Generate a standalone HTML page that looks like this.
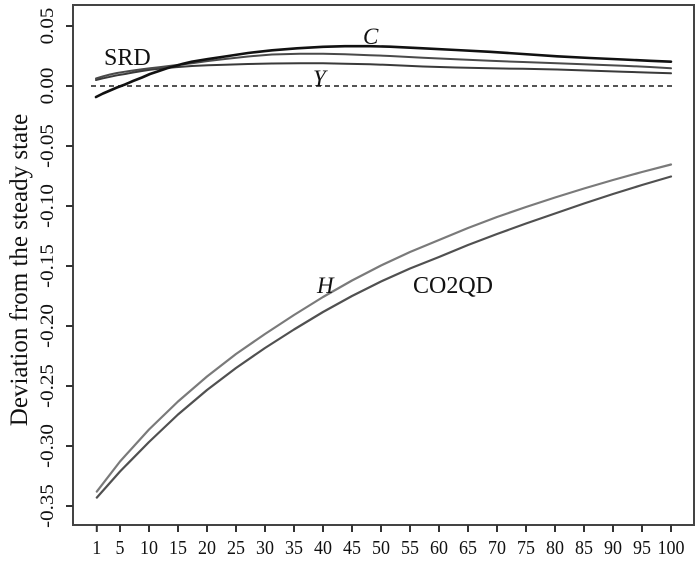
<!DOCTYPE html>
<html>
<head>
<meta charset="utf-8">
<style>
  html,body{margin:0;padding:0;background:#fff;}
  svg{display:block;}
  text{font-family:"Liberation Serif","DejaVu Serif",serif;fill:#111;}
</style>
</head>
<body>
<svg width="700" height="563" viewBox="0 0 700 563" xmlns="http://www.w3.org/2000/svg">
  <rect x="0" y="0" width="700" height="563" fill="#fff"/>

  <!-- frame -->
  <rect x="73" y="5" width="621" height="520" fill="none" stroke="#444" stroke-width="2"/>

  <!-- y ticks -->
  <g stroke="#333" stroke-width="2">
    <line x1="66" y1="26" x2="73" y2="26"/>
    <line x1="66" y1="86" x2="73" y2="86"/>
    <line x1="66" y1="146" x2="73" y2="146"/>
    <line x1="66" y1="206" x2="73" y2="206"/>
    <line x1="66" y1="266" x2="73" y2="266"/>
    <line x1="66" y1="326" x2="73" y2="326"/>
    <line x1="66" y1="386" x2="73" y2="386"/>
    <line x1="66" y1="446" x2="73" y2="446"/>
    <line x1="66" y1="506" x2="73" y2="506"/>
  </g>

  <!-- y tick labels -->
  <g font-size="21" text-anchor="middle">
    <text transform="translate(53,26) scale(0.88,1) rotate(-90)">0.05</text>
    <text transform="translate(53,86) scale(0.88,1) rotate(-90)">0.00</text>
    <text transform="translate(53,146) scale(0.88,1) rotate(-90)">-0.05</text>
    <text transform="translate(53,206) scale(0.88,1) rotate(-90)">-0.10</text>
    <text transform="translate(53,266) scale(0.88,1) rotate(-90)">-0.15</text>
    <text transform="translate(53,326) scale(0.88,1) rotate(-90)">-0.20</text>
    <text transform="translate(53,386) scale(0.88,1) rotate(-90)">-0.25</text>
    <text transform="translate(53,446) scale(0.88,1) rotate(-90)">-0.30</text>
    <text transform="translate(53,506) scale(0.88,1) rotate(-90)">-0.35</text>
  </g>

  <!-- y axis title -->
  <text font-size="25" text-anchor="middle" transform="translate(27,270) rotate(-90)">Deviation from the steady state</text>

  <!-- x ticks -->
  <g stroke="#333" stroke-width="2">
    <line x1="96.8" y1="525" x2="96.8" y2="532"/>
    <line x1="120" y1="525" x2="120" y2="532"/>
    <line x1="149" y1="525" x2="149" y2="532"/>
    <line x1="178" y1="525" x2="178" y2="532"/>
    <line x1="207" y1="525" x2="207" y2="532"/>
    <line x1="236" y1="525" x2="236" y2="532"/>
    <line x1="265" y1="525" x2="265" y2="532"/>
    <line x1="294" y1="525" x2="294" y2="532"/>
    <line x1="323" y1="525" x2="323" y2="532"/>
    <line x1="352" y1="525" x2="352" y2="532"/>
    <line x1="381" y1="525" x2="381" y2="532"/>
    <line x1="410" y1="525" x2="410" y2="532"/>
    <line x1="439" y1="525" x2="439" y2="532"/>
    <line x1="468" y1="525" x2="468" y2="532"/>
    <line x1="497" y1="525" x2="497" y2="532"/>
    <line x1="526" y1="525" x2="526" y2="532"/>
    <line x1="555" y1="525" x2="555" y2="532"/>
    <line x1="584" y1="525" x2="584" y2="532"/>
    <line x1="613" y1="525" x2="613" y2="532"/>
    <line x1="642" y1="525" x2="642" y2="532"/>
    <line x1="671" y1="525" x2="671" y2="532"/>
  </g>

  <!-- x tick labels -->
  <g font-size="20" text-anchor="middle">
    <text transform="translate(96.8,554) scale(0.9,1)">1</text>
    <text transform="translate(120,554) scale(0.9,1)">5</text>
    <text transform="translate(149,554) scale(0.9,1)">10</text>
    <text transform="translate(178,554) scale(0.9,1)">15</text>
    <text transform="translate(207,554) scale(0.9,1)">20</text>
    <text transform="translate(236,554) scale(0.9,1)">25</text>
    <text transform="translate(265,554) scale(0.9,1)">30</text>
    <text transform="translate(294,554) scale(0.9,1)">35</text>
    <text transform="translate(323,554) scale(0.9,1)">40</text>
    <text transform="translate(352,554) scale(0.9,1)">45</text>
    <text transform="translate(381,554) scale(0.9,1)">50</text>
    <text transform="translate(410,554) scale(0.9,1)">55</text>
    <text transform="translate(439,554) scale(0.9,1)">60</text>
    <text transform="translate(468,554) scale(0.9,1)">65</text>
    <text transform="translate(497,554) scale(0.9,1)">70</text>
    <text transform="translate(526,554) scale(0.9,1)">75</text>
    <text transform="translate(555,554) scale(0.9,1)">80</text>
    <text transform="translate(584,554) scale(0.9,1)">85</text>
    <text transform="translate(613,554) scale(0.9,1)">90</text>
    <text transform="translate(642,554) scale(0.9,1)">95</text>
    <text transform="translate(671,554) scale(0.9,1)">100</text>
  </g>

  <!-- zero dashed line -->
  <line x1="91" y1="86" x2="675" y2="86" stroke="#555" stroke-width="2" stroke-dasharray="5 4"/>

  <!-- series -->
  <g fill="none" stroke-linejoin="round" stroke-linecap="round">
    <polyline stroke="#3a3a3a" stroke-width="2" points="96,80 103,78.3 110,76.8 117,75.3 125,74 133,72.5 142,71 150,69.8 159,68.8 175,67.2 192,66 208,65.3 225,64.8 248,64 272,63.5 300,63.3 323,63.3 345,63.7 370,64.3 390,65 423,66.5 456,67.5 490,68.3 523,68.8 557,69.5 590,70.6 623,71.7 650,72.6 671,73.3"/>
    <polyline stroke="#4a4a4a" stroke-width="2" points="96,78.5 103,76.3 110,74.5 117,73 125,71.7 133,70.5 142,69.3 150,68.3 159,67.3 175,65.3 192,63.3 208,61 225,59 248,56.5 272,54.5 300,53.7 323,53.8 345,54.3 370,55.2 390,56 423,57.8 456,59.3 490,60.8 523,62 557,63.3 590,64.5 623,65.7 650,67 671,68.3"/>
    <polyline stroke="#111" stroke-width="2.6" points="96,97 103,93.5 110,90.5 117,87.5 125,84.5 133,81 142,77.5 150,74 159,71 167,68.3 175,66 183,63.8 192,61.7 208,59 225,56.5 248,53 272,50.3 297,48.3 323,46.8 345,46.2 370,46.2 390,46.7 423,48.3 456,50 490,51.8 523,54 557,56.3 590,58 623,59.5 650,60.8 671,61.7"/>

    <polyline stroke="#7a7a7a" stroke-width="2.2" points="96.8,491.6 120,461.5 149,429.5 178,401.5 207,376.5 236,354 265,334 294,315 323,297 352,280.5 381,265.5 410,252 439,240 468,228 497,217 526,207 555,197.5 584,188.5 613,180 642,172 671,164.5"/>
    <polyline stroke="#505050" stroke-width="2.2" points="96.8,497.6 120,471.5 149,442 178,414.5 207,390 236,368 265,348 294,329.5 323,312 352,296 381,281.5 410,268.5 439,257 468,245 497,234 526,223.5 555,213.5 584,203.5 613,194 642,185 671,176.5"/>
  </g>

  <!-- series labels -->
  <text x="104" y="65" font-size="24">SRD</text>
  <text x="363" y="44" font-size="23" font-style="italic">C</text>
  <text x="313" y="86" font-size="23" font-style="italic">Y</text>
  <text x="317" y="293" font-size="23" font-style="italic">H</text>
  <text x="413" y="293" font-size="24">CO2QD</text>
</svg>
</body>
</html>
